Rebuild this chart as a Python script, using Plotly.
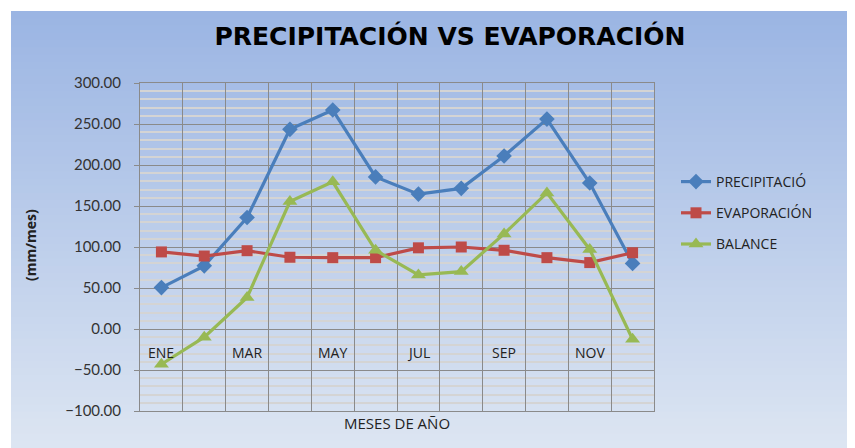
import plotly.graph_objects as go

meses = ["ENE", "FEB", "MAR", "ABR", "MAY", "JUN", "JUL", "AGO", "SEP", "OCT", "NOV", "DIC"]
precipitacion = [50.5, 77, 136, 243.5, 267, 185.5, 164.5, 171.5, 211, 256, 178, 80]
evaporacion = [94, 89, 95.5, 87.5, 87, 87, 99, 100, 96, 87, 81, 93]
balance = [-43, -10, 38.5, 155.5, 179.5, 96, 66, 70, 116, 166, 97, -12.5]
etiquetas = ["ENE", "MAR", "MAY", "JUL", "SEP", "NOV"]

# page body has an 8px margin, so the figure is shifted by OFF
OFF = 8
W, H = 847, 440


def px(X):
    return (X - OFF) / W


def py(Y):
    return 1 - (Y - OFF) / H


fig = go.Figure()
fig.add_trace(go.Scatter(x=meses, y=precipitacion, name="PRECIPITACIÓ", mode="lines+markers",
                         legendgroup="a",
                         line=dict(color="#4A7EBB", width=3.2),
                         marker=dict(symbol="diamond", size=12, color="#4A7EBB")))
fig.add_trace(go.Scatter(x=meses, y=evaporacion, name="EVAPORACIÓN", mode="lines+markers",
                         legendgroup="b",
                         line=dict(color="#BE4B48", width=3.2),
                         marker=dict(symbol="square", size=11, color="#BE4B48")))
fig.add_trace(go.Scatter(x=meses, y=balance, name="BALANCE", mode="lines+markers",
                         legendgroup="c",
                         line=dict(color="#98B954", width=3.2),
                         marker=dict(symbol="triangle-up", size=13, color="#98B954")))

# background gradient (chart area starts 11px from top/left)
n = 60
top, bot = (155, 181, 227), (220, 229, 242)
y0, y1 = 0.0, py(11)
shapes = []
for i in range(n):
    t = i / (n - 1)
    c = tuple(int(round(top[k] + (bot[k] - top[k]) * t)) for k in range(3))
    ya = y1 - (y1 - y0) * i / n
    yb = y1 - (y1 - y0) * (i + 1) / n
    shapes.append(dict(type="rect", xref="paper", yref="paper", x0=px(11), x1=1,
                       y0=yb - 0.003, y1=ya, line=dict(width=0),
                       fillcolor="rgb(%d,%d,%d)" % c, layer="below"))

lbl_font = dict(family="Open Sans, Lato", size=14, color="#222")
annots = [dict(x=m, y=0, xref="x", yref="y", text=m, showarrow=False, yanchor="middle",
               yshift=-23, font=lbl_font)
          for m in etiquetas]
annots.append(dict(x=px(397), y=py(423), xref="paper", yref="paper", text="MESES DE AÑO",
                   showarrow=False, xanchor="center", yanchor="middle",
                   font=dict(family="Open Sans, Lato", size=15, color="#222")))
annots.append(dict(x=px(30), y=py(245), xref="paper", yref="paper", text="<b>(mm/mes)</b>",
                   textangle=-90, showarrow=False, xanchor="center", yanchor="middle",
                   font=dict(family="Open Sans, Lato", size=14, color="#222")))

fig.update_layout(
    width=W, height=H,
    margin=dict(l=0, r=0, t=0, b=0, autoexpand=False),
    paper_bgcolor="white", plot_bgcolor="white",
    shapes=shapes, annotations=annots,
    title=dict(text="<b>PRECIPITACIÓN VS EVAPORACIÓN</b>", x=px(450), xanchor="center",
               y=py(36), yanchor="middle",
               font=dict(family="DejaVu Sans", size=25, color="black")),
    showlegend=True,
    legend=dict(x=px(676), y=py(166), xanchor="left", yanchor="top",
                bgcolor="rgba(0,0,0,0)", tracegroupgap=10,
                font=dict(family="Open Sans, Lato", size=14, color="#222")),
    xaxis=dict(domain=[px(140), px(654)], type="category", range=[-0.5, 11.5],
               automargin=False,
               tickson="boundaries", showticklabels=False, ticks="",
               showgrid=True, gridcolor="#8A8A8A", gridwidth=1,
               showline=True, linecolor="#8A8A8A", mirror=True, zeroline=False),
    yaxis=dict(domain=[py(411), py(83)], range=[-100, 300], dtick=50,
               automargin=False,
               tickformat=".2f", ticks="outside", ticklen=5, tickcolor="#8A8A8A",
               ticklabelstandoff=10,
               showgrid=True, gridcolor="#8A8A8A", gridwidth=1,
               minor=dict(dtick=10, showgrid=True, gridcolor="#D4D4D4", gridwidth=1.5),
               showline=True, linecolor="#8A8A8A", mirror=True, zeroline=False,
               tickfont=dict(family="Lato, Liberation Sans", size=15, color="#333")),
)

fig.write_html("out.html")
